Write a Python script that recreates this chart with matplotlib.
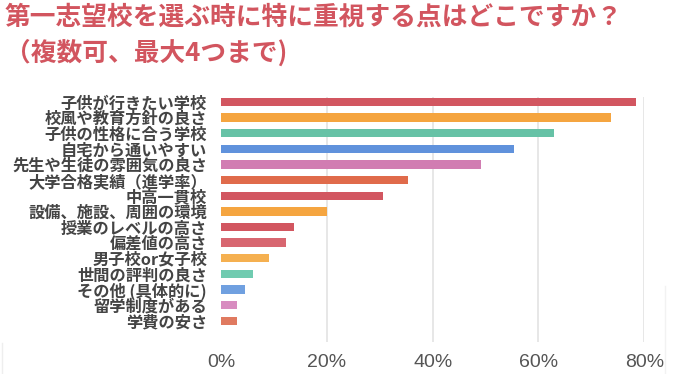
import matplotlib
matplotlib.use("Agg")
import matplotlib.pyplot as plt
from matplotlib.lines import Line2D

plt.rcParams['font.family'] = ['Noto Sans CJK JP', 'DejaVu Sans']

categories = [
    "子供が行きたい学校",
    "校風や教育方針の良さ",
    "子供の性格に合う学校",
    "自宅から通いやすい",
    "先生や生徒の雰囲気の良さ",
    "大学合格実績（進学率）",
    "中高一貫校",
    "設備、施設、周囲の環境",
    "授業のレベルの高さ",
    "偏差値の高さ",
    "男子校or女子校",
    "世間の評判の良さ",
    "その他 (具体的に)",
    "留学制度がある",
    "学費の安さ",
]
values = [78.4, 73.8, 62.9, 55.4, 49.1, 35.4, 30.7, 20.0, 13.8, 12.2, 9.1, 6.1, 4.5, 3.0, 3.0]
colors = [
    "#d25660", "#f5a540", "#66c2a6", "#6092dc", "#d17db2",
    "#e06b4b", "#d25660", "#f5a540", "#d25660", "#d86670",
    "#f5b050", "#70cbb0", "#70a0e0", "#d88cc0", "#e07a60",
]
xticks = [0, 20, 40, 60, 80]
xtick_labels = ["0%", "20%", "40%", "60%", "80%"]
title_line1 = "第一志望校を選ぶ時に特に重視する点はどこですか？"
title_line2 = "（複数可、最大4つまで)"

W, H = 700, 374
fig = plt.figure(figsize=(W / 100, H / 100), dpi=100)
fig.patch.set_facecolor("white")

left_px, right_px, top_px, bottom_px = 221, 644.3, 96.7, 341.7
ax = fig.add_axes([left_px / W, (H - bottom_px) / H,
                   (right_px - left_px) / W, (bottom_px - top_px) / H])

ypos = list(range(len(categories)))
ax.barh(ypos, values, height=0.54, color=colors, zorder=3)

ax.set_xlim(0, 80)
ax.set_ylim(15.34, -0.34)
ax.set_xticks(xticks)
ax.set_xticklabels(xtick_labels)
ax.set_yticks(ypos)
ax.set_yticklabels(categories)

for x in xticks[1:]:
    ax.axvline(x, color="#e3e3e3", linewidth=1.2, zorder=1)

for s in ax.spines.values():
    s.set_visible(False)

ax.tick_params(axis='x', length=0, pad=9, labelsize=14, labelcolor="#555555")
ax.tick_params(axis='y', length=0, pad=10, labelcolor="#444444")
for lbl in ax.get_xticklabels():
    lbl.set_fontfamily(["Liberation Sans", "DejaVu Sans"])
for lbl in ax.get_yticklabels():
    lbl.set_fontsize(11.7)
    lbl.set_fontweight("bold")

fig.text(5 / W, 1 - 17 / H, title_line1, fontsize=18.5, fontweight="bold",
         color="#d2555f", ha="left", va="center")
fig.text(5 / W, 1 - 53 / H, title_line2, fontsize=18.5, fontweight="bold",
         color="#d2555f", ha="left", va="center")

# faint frame remnants
fig.add_artist(Line2D([2 / W, 2 / W], [0, (H - 343) / H], color="#eeeeee", linewidth=1))
fig.add_artist(Line2D([665 / W, 665 / W], [0, (H - 286) / H], color="#f2f2f2", linewidth=1))

fig.savefig("out.png", dpi=100)
